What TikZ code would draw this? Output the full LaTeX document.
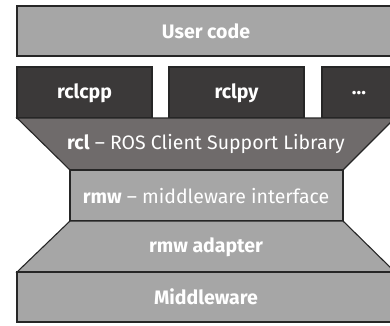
\documentclass[tikz,border=0pt]{standalone}
\usepackage{fontspec}
\setmainfont{Fira Sans}
\definecolor{lightg}{HTML}{A6A6A6}
\definecolor{darkg}{HTML}{3B3939}
\definecolor{midg}{HTML}{6F6B6B}
\begin{document}
\begin{tikzpicture}[x=1pt,y=-1pt,
  layer/.style={draw=black!85,line width=1.1pt,fill=lightg},
  darkbox/.style={draw=black!85,line width=1.1pt,fill=darkg},
  lbl/.style={text=white,inner sep=0pt,font=\fontsize{19.5}{22}\selectfont},
  blbl/.style={text=white,inner sep=0pt,font=\fontsize{19.5}{22}\selectfont\bfseries}]
\useasboundingbox (0,0) rectangle (390,325);
\begin{scope}
\clip (0,0) rectangle (390,325);
% user code
\draw[layer] (17,6) rectangle (395,56);
\node[blbl] (user) at (206,31) {User code};
% dark boxes
\draw[darkbox] (17,67) rectangle (152,118);
\node[blbl] (rclcpp) at (84.5,93) {rclcpp};
\draw[darkbox] (169,67) rectangle (304,118);
\node[blbl] (rclpy) at (236.5,93) {rclpy};
\draw[darkbox] (322,67) rectangle (400,118);
\node[blbl] (more) at (359,93) {...};
% rcl trapezoid
\draw[layer,fill=midg] (17,118) -- (395,118) -- (343,170) -- (70,170) -- cycle;
\node[lbl] (rcl) at (206,144) {\textbf{rcl} – ROS Client Support Library};
% rmw
\draw[layer] (70,170) rectangle (343,221);
\node[lbl] (rmw) at (206,196) {\textbf{rmw} – middleware interface};
% rmw adapter trapezoid
\draw[layer] (70,221) -- (343,221) -- (395,272) -- (17,272) -- cycle;
\node[blbl] (adapter) at (206,247) {rmw adapter};
% middleware
\draw[layer] (17,272) rectangle (395,322);
\node[blbl] (mw) at (206,297) {Middleware};
\end{scope}
\end{tikzpicture}
\end{document}
